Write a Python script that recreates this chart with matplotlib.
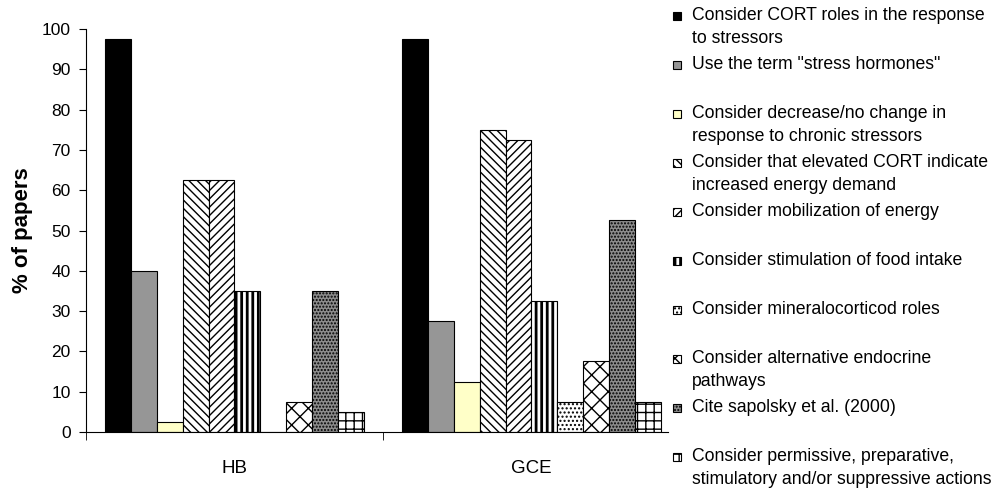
import matplotlib.pyplot as plt
from matplotlib.patches import Rectangle
import numpy as np

plt.rcParams['font.family'] = ['Liberation Sans', 'DejaVu Sans']
plt.rcParams['hatch.linewidth'] = 1.0

# data
groups = ['HB', 'GCE']
labels = [
    'Consider CORT roles in the response\nto stressors',
    'Use the term "stress hormones"',
    'Consider decrease/no change in\nresponse to chronic stressors',
    'Consider that elevated CORT indicate\nincreased energy demand',
    'Consider mobilization of energy',
    'Consider stimulation of food intake',
    'Consider mineralocorticod roles',
    'Consider alternative endocrine\npathways',
    'Cite sapolsky et al. (2000)',
    'Consider permissive, preparative,\nstimulatory and/or suppressive actions',
]
hb = [97.5, 40, 2.5, 62.5, 62.5, 35, 0, 7.5, 35, 5]
gce = [97.5, 27.5, 12.5, 75, 72.5, 32.5, 7.5, 17.5, 52.5, 7.5]

# styles
colors = ['black', '#969696', '#ffffc8', 'white', 'white', 'white',
          'white', 'white', '#8c8c8c', 'white']
hatches = [None, None, None, '\\\\\\\\', '////', '|||', '....', 'xx', '.....', '++']
hatch_lw = [1, 1, 1, 1, 1, 2, 1, 1, 1, 1]

W, H = 995, 490
fig = plt.figure(figsize=(W / 100, H / 100), dpi=100)
ax = fig.add_axes([86 / W, 58 / H, 582 / W, 403 / H])

n = len(labels)
w = 1 / (n + 1.5)
values = np.array([hb, gce])
for i in range(n):
    x = np.arange(len(groups)) + 0.75 * w + i * w
    with plt.rc_context({'hatch.linewidth': hatch_lw[i]}):
        ax.bar(x, values[:, i], width=w, align='edge', color=colors[i],
               hatch=hatches[i], edgecolor='black', linewidth=0.8)

ax.set_xlim(0, 582 / 297)
ax.set_ylim(0, 100)
ax.set_yticks(np.arange(0, 101, 10))
ax.tick_params(axis='y', labelsize=12.5, length=5, pad=6)
ax.set_xticks([0.5, 1.5])
ax.set_xticklabels(groups, fontsize=13.5)
ax.set_xticks([0, 1], minor=True)
ax.tick_params(axis='x', which='major', length=0, pad=20)
ax.tick_params(axis='x', which='minor', length=6)
for s in ['top', 'right']:
    ax.spines[s].set_visible(False)
ax.set_ylabel('% of papers', fontsize=16, fontweight='bold', labelpad=6)

# legend drawn by hand, one entry every ~49 px
for i in range(n):
    yc = 16 + 49 * i
    with plt.rc_context({'hatch.linewidth': hatch_lw[i]}):
        fig.add_artist(Rectangle((673 / W, 1 - (yc + 4) / H), 8 / W, 8 / H,
                                 transform=fig.transFigure, facecolor=colors[i],
                                 hatch=hatches[i], edgecolor='black', linewidth=0.8))
    fig.text(692 / W, 1 - (yc - 9) / H, labels[i], fontsize=12.7,
             va='top', ha='left', linespacing=1.45)

fig.savefig('out.png', dpi=100)
